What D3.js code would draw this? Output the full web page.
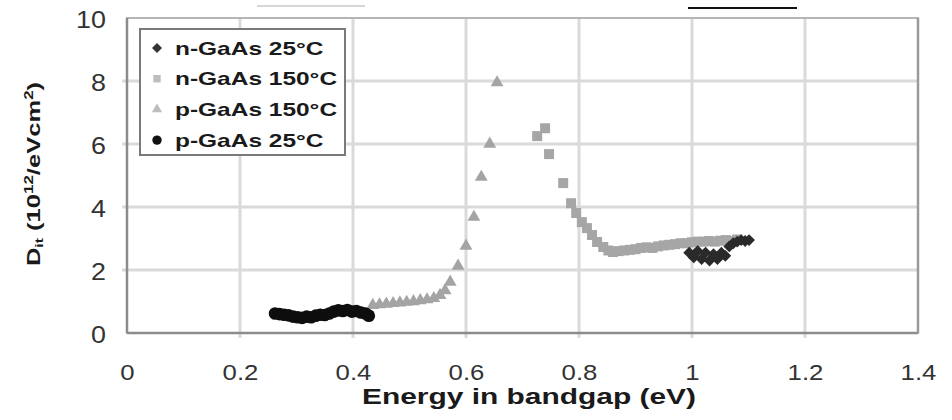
<!DOCTYPE html>
<html>
<head>
<meta charset="utf-8">
<script src="https://cdn.jsdelivr.net/npm/d3@7"></script>
<style>
    body { margin: 0; background: #fff; }
    svg { display: block; font-family: "Liberation Sans", Arial, sans-serif; }
</style>
</head>
<body>
<svg id="dessin" width="952" height="420"></svg>
<script>
// données
const xTicks = [0, 0.2, 0.4, 0.6, 0.8, 1, 1.2, 1.4]
const yTicks = [0, 2, 4, 6, 8, 10]

const nGaAs25_x = [0.995, 1.003, 1.01, 1.017, 1.024, 1.031, 1.038, 1.045, 1.052, 1.059, 1.066, 1.073, 1.08, 1.087, 1.094, 1.101]
const nGaAs25_y = [2.55, 2.4, 2.6, 2.35, 2.55, 2.3, 2.5, 2.35, 2.55, 2.45, 2.75, 2.85, 2.9, 2.95, 2.92, 2.95]

const nGaAs150_x = [0.726, 0.74, 0.747, 0.772, 0.786, 0.795, 0.805, 0.814, 0.823, 0.832, 0.843, 0.852, 0.86, 0.87, 0.88, 0.89, 0.9, 0.91, 0.92, 0.93, 0.94, 0.95, 0.96, 0.97, 0.98, 0.99, 1.0, 1.01, 1.02, 1.03, 1.04, 1.05, 1.06, 1.07, 1.08]
const nGaAs150_y = [6.25, 6.5, 5.68, 4.76, 4.12, 3.81, 3.52, 3.33, 3.11, 2.89, 2.73, 2.62, 2.57, 2.6, 2.62, 2.64, 2.66, 2.7, 2.72, 2.7, 2.75, 2.78, 2.8, 2.82, 2.85, 2.85, 2.88, 2.9, 2.9, 2.92, 2.9, 2.93, 2.95, 2.92, 2.97]

const pGaAs150_x = [0.435, 0.447, 0.459, 0.471, 0.483, 0.495, 0.507, 0.519, 0.531, 0.543, 0.554, 0.563, 0.572, 0.586, 0.6, 0.614, 0.627, 0.642, 0.655]
const pGaAs150_y = [0.88, 0.9, 0.92, 0.94, 0.96, 0.98, 1.0, 1.03, 1.06, 1.1, 1.2, 1.35, 1.62, 2.13, 2.76, 3.68, 4.95, 6.0, 7.95]

const pGaAs25_x = [0.262, 0.27, 0.278, 0.286, 0.294, 0.302, 0.31, 0.318, 0.326, 0.334, 0.342, 0.35, 0.358, 0.366, 0.374, 0.382, 0.39, 0.398, 0.406, 0.414, 0.422, 0.428]
const pGaAs25_y = [0.62, 0.6, 0.58, 0.56, 0.52, 0.5, 0.48, 0.52, 0.5, 0.55, 0.58, 0.57, 0.62, 0.68, 0.72, 0.7, 0.73, 0.68, 0.7, 0.65, 0.62, 0.55]

const legendLabels = ["n-GaAs 25°C", "n-GaAs 150°C", "p-GaAs 150°C", "p-GaAs 25°C"]

const svg = d3.select("#dessin")
const x = d3.scaleLinear().domain([0, 1.4]).range([127, 918])
const y = d3.scaleLinear().domain([0, 10]).range([333, 18])

// traits en haut de l'image (restes du découpage)
svg.append("line").attr("x1", 257).attr("x2", 365).attr("y1", 6).attr("y2", 6)
    .style("stroke", "#c8c8c8").style("stroke-width", 1.5)
svg.append("line").attr("x1", 688).attr("x2", 797).attr("y1", 8).attr("y2", 8)
    .style("stroke", "#111").style("stroke-width", 2)

// grille
svg.append("g")
    .selectAll("line")
    .data(yTicks.slice(1, -1))
    .enter()
    .append("line")
    .attr("x1", x(0) - 5)
    .attr("x2", x(1.4))
    .attr("y1", d => y(d))
    .attr("y2", d => y(d))
    .style("stroke", "#dadada")
    .style("stroke-width", 3)

svg.append("g")
    .selectAll("line")
    .data(xTicks.slice(1, -1))
    .enter()
    .append("line")
    .attr("x1", d => x(d))
    .attr("x2", d => x(d))
    .attr("y1", y(10))
    .attr("y2", y(0) + 5)
    .style("stroke", "#dadada")
    .style("stroke-width", 3)

// cadre
svg.append("rect")
    .attr("x", x(0))
    .attr("y", y(10))
    .attr("width", x(1.4) - x(0))
    .attr("height", y(0) - y(10))
    .style("fill", "none")
    .style("stroke", "#b5b5b5")
    .style("stroke-width", 2)
svg.append("line").attr("x1", x(0)).attr("x2", x(0)).attr("y1", y(10)).attr("y2", y(0))
    .style("stroke", "#8c8c8c").style("stroke-width", 2.5)
svg.append("line").attr("x1", x(0)).attr("x2", x(1.4)).attr("y1", y(0)).attr("y2", y(0))
    .style("stroke", "#8c8c8c").style("stroke-width", 2.5)
svg.append("line").attr("x1", x(1.4)).attr("x2", x(1.4)).attr("y1", y(10)).attr("y2", y(0))
    .style("stroke", "#9a9a9a").style("stroke-width", 2.5)

// axes
const xAxis = svg.append("g")
    .attr("transform", `translate(0,${y(0)})`)
    .call(d3.axisBottom(x).tickValues(xTicks).tickFormat(d3.format("~g")).tickSize(0))
xAxis.select(".domain").remove()
xAxis.selectAll("text")
    .attr("y", 0)
    .attr("dy", 0)
    .attr("transform", "translate(0,47) scale(1.12,1)")
    .style("font-size", "23px")
    .style("fill", "#333")

const yAxis = svg.append("g")
    .attr("transform", `translate(106,0)`)
    .call(d3.axisLeft(y).tickValues(yTicks).tickFormat(d3.format("~g")).tickSize(0).tickPadding(0))
yAxis.select(".domain").remove()
yAxis.selectAll("text")
    .attr("x", 0)
    .attr("dy", 0)
    .attr("transform", "translate(0,9) scale(1.12,1)")
    .style("font-size", "24px")
    .style("fill", "#333")

// titres des axes
svg.append("text")
    .attr("transform", "translate(529,404) scale(1.36,1)")
    .attr("text-anchor", "middle")
    .style("font-size", "22px")
    .style("font-weight", "bold")
    .style("fill", "#1a1a1a")
    .text("Energy in bandgap (eV)")

const yTitle = svg.append("text")
    .attr("transform", "translate(40,174) rotate(-90) scale(1.42,1)")
    .attr("text-anchor", "middle")
    .style("font-size", "18px")
    .style("font-weight", "bold")
    .style("fill", "#1a1a1a")
yTitle.append("tspan").text("D")
yTitle.append("tspan").attr("dy", 3).style("font-size", "11px").text("it")
yTitle.append("tspan").attr("dy", -3).text(" (10")
yTitle.append("tspan").attr("dy", -7).style("font-size", "12px").text("12")
yTitle.append("tspan").attr("dy", 7).text("/eVcm")
yTitle.append("tspan").attr("dy", -7).style("font-size", "12px").text("2")
yTitle.append("tspan").attr("dy", 7).text(")")

// séries
function paires(xs, ys) {
    return xs.map((v, i) => ({ x: v, y: ys[i] }))
}

const series = [
    { nom: "p150", data: paires(pGaAs150_x, pGaAs150_y), symbole: d3.symbolTriangle, taille: 72, angle: 0, couleur: "#a4a4a4" },
    { nom: "n150", data: paires(nGaAs150_x, nGaAs150_y), symbole: d3.symbolSquare, taille: 100, angle: 0, couleur: "#a6a6a6" },
    { nom: "p25", data: paires(pGaAs25_x, pGaAs25_y), symbole: d3.symbolCircle, taille: 125, angle: 0, couleur: "#0e0e0e" },
    { nom: "n25", data: paires(nGaAs25_x, nGaAs25_y), symbole: d3.symbolSquare, taille: 70, angle: 45, couleur: "#2a2a2a" }
]

series.forEach(s => {
    svg.append("g")
        .attr("class", s.nom)
        .selectAll("path")
        .data(s.data)
        .enter()
        .append("path")
        .attr("d", d3.symbol().type(s.symbole).size(s.taille))
        .attr("transform", d => `translate(${x(d.x)},${y(d.y)}) rotate(${s.angle})`)
        .style("fill", s.couleur)
})

// légende
const legend = svg.append("g").attr("transform", "translate(140,29)")
legend.append("rect")
    .attr("width", 205)
    .attr("height", 126)
    .style("fill", "#fff")
    .style("stroke", "#7a7a7a")
    .style("stroke-width", 2)

const legendSymbols = [
    { symbole: d3.symbolSquare, taille: 50, angle: 45, couleur: "#333" },
    { symbole: d3.symbolSquare, taille: 55, angle: 0, couleur: "#bdbdbd" },
    { symbole: d3.symbolTriangle, taille: 45, angle: 0, couleur: "#bdbdbd" },
    { symbole: d3.symbolCircle, taille: 70, angle: 0, couleur: "#111" }
]

const items = legend.selectAll(".item")
    .data(legendLabels)
    .enter()
    .append("g")
    .attr("class", "item")
    .attr("transform", (d, i) => `translate(0,${19 + i * 30.7})`)

items.append("path")
    .attr("d", (d, i) => d3.symbol().type(legendSymbols[i].symbole).size(legendSymbols[i].taille)())
    .attr("transform", (d, i) => `translate(17,0) rotate(${legendSymbols[i].angle})`)
    .style("fill", (d, i) => legendSymbols[i].couleur)

items.append("text")
    .attr("transform", "translate(35,6.5) scale(1.36,1)")
    .style("font-size", "18px")
    .style("font-weight", "bold")
    .style("fill", "#1a1a1a")
    .text(d => d)
</script>
</body>
</html>
